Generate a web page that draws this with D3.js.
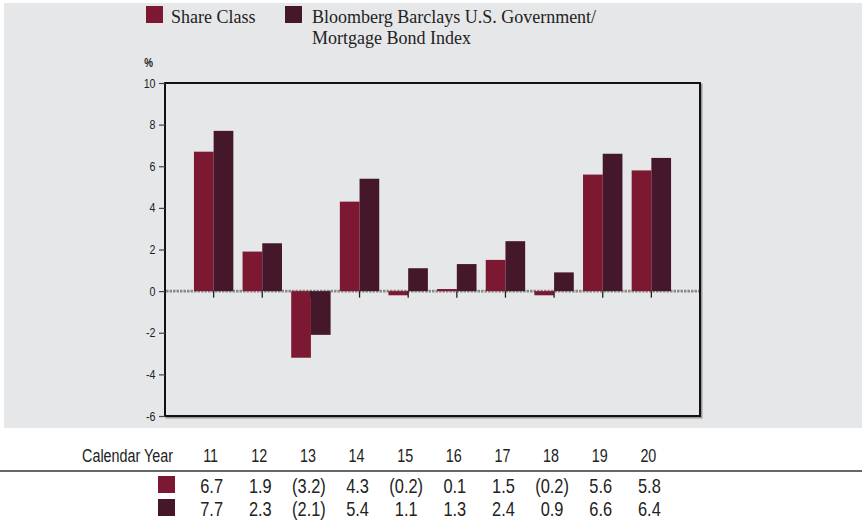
<!DOCTYPE html>
<html>
<head>
<meta charset="utf-8">
<script src="https://cdn.jsdelivr.net/npm/d3@7"></script>
<style>
  html, body { margin: 0; padding: 0; background: #ffffff; }
  svg { display: block; }
</style>
</head>
<body>
<svg id="chart" width="862" height="521"></svg>
<script>
// Calendar-year total returns (%)
const years = ["11", "12", "13", "14", "15", "16", "17", "18", "19", "20"];
const shareClass = [6.7, 1.9, -3.2, 4.3, -0.2, 0.1, 1.5, -0.2, 5.6, 5.8];
const benchmark = [7.7, 2.3, -2.1, 5.4, 1.1, 1.3, 2.4, 0.9, 6.6, 6.4];
const seriesNames = ["Share Class", "Bloomberg Barclays U.S. Government/", "Mortgage Bond Index"];
const yTicks = [10, 8, 6, 4, 2, 0, -2, -4, -6];

const colors = { share: "#7c1831", bench: "#44172a" };
const sans = "'Liberation Sans', Arial, sans-serif";
const serif = "'Liberation Serif', 'Times New Roman', serif";
const squeeze = 0.82; // horizontal compression for a condensed look

const svg = d3.select("#chart");

// Condensed text helper: a sans face squeezed horizontally
function narrowText(parent, px, py, size, anchor, str, opts = {}) {
  return parent.append("text")
    .attr("transform", `translate(${px},${py}) scale(${squeeze},1)`)
    .attr("text-anchor", anchor)
    .attr("font-family", sans)
    .attr("font-size", size)
    .attr("font-weight", opts.weight || "normal")
    .attr("fill", opts.fill || "#222")
    .text(str);
}

// Panel background
svg.append("rect").attr("x", 4).attr("y", 3).attr("width", 858).attr("height", 425)
  .attr("fill", "#e6e7e9");

const plot = { left: 165, right: 700, top: 83, bottom: 416 };

const x = d3.scalePoint().domain(years).range([plot.left, plot.right]).padding(1);
const y = d3.scaleLinear().domain([-6, 10]).range([plot.bottom, plot.top]);
const barW = 19.7;

// Frame shadow + frame
svg.append("rect")
  .attr("x", plot.left + 1.5).attr("y", plot.top + 1.5)
  .attr("width", plot.right - plot.left).attr("height", plot.bottom - plot.top)
  .attr("fill", "none").attr("stroke", "#9a9a9a").attr("stroke-width", 2);
svg.append("rect")
  .attr("x", plot.left).attr("y", plot.top)
  .attr("width", plot.right - plot.left).attr("height", plot.bottom - plot.top)
  .attr("fill", "#e6e7e9").attr("stroke", "#111").attr("stroke-width", 2);

// Zero reference line
svg.append("line")
  .attr("x1", plot.left + 1).attr("x2", plot.right - 1)
  .attr("y1", y(0)).attr("y2", y(0))
  .attr("stroke", "#8a8a8a").attr("stroke-width", 2.6)
  .attr("stroke-dasharray", "2.5,1");

// Bars
const bars = svg.append("g");
bars.selectAll("rect.share").data(years).join("rect")
  .attr("class", "share")
  .attr("x", d => x(d) - barW)
  .attr("width", barW)
  .attr("y", (d, i) => y(Math.max(0, shareClass[i])))
  .attr("height", (d, i) => Math.abs(y(shareClass[i]) - y(0)))
  .attr("fill", colors.share);
bars.selectAll("rect.bench").data(years).join("rect")
  .attr("class", "bench")
  .attr("x", d => x(d))
  .attr("width", barW)
  .attr("y", (d, i) => y(Math.max(0, benchmark[i])))
  .attr("height", (d, i) => Math.abs(y(benchmark[i]) - y(0)))
  .attr("fill", colors.bench);

// Category ticks below the zero line
svg.append("g").selectAll("line").data(years).join("line")
  .attr("x1", d => x(d)).attr("x2", d => x(d))
  .attr("y1", y(0)).attr("y2", y(0) + 6.5)
  .attr("stroke", "#222").attr("stroke-width", 1.3);

// Y axis: tick marks from d3, labels drawn condensed
const yAxis = svg.append("g")
  .attr("transform", `translate(${plot.left},0)`)
  .call(d3.axisLeft(y).tickValues(yTicks).tickSize(6).tickFormat(""));
yAxis.select(".domain").remove();
yAxis.selectAll(".tick line").attr("stroke", "#444").attr("stroke-width", 1.2);
const yLabels = svg.append("g");
yTicks.forEach(t => narrowText(yLabels, 155.5, y(t) + 4.6, 13, "end", String(t)));

narrowText(svg, 148.5, 67, 12, "middle", "%", { weight: "bold" });

// Legend
svg.append("rect").attr("x", 146).attr("y", 6).attr("width", 17).attr("height", 17).attr("fill", colors.share);
svg.append("text").attr("x", 171).attr("y", 22.5)
  .attr("font-family", serif).attr("font-size", 18).attr("fill", "#222").text(seriesNames[0]);
svg.append("rect").attr("x", 285).attr("y", 6).attr("width", 17).attr("height", 17).attr("fill", colors.bench);
svg.append("text").attr("x", 312).attr("y", 22.5)
  .attr("font-family", serif).attr("font-size", 18).attr("fill", "#222").text(seriesNames[1]);
svg.append("text").attr("x", 312).attr("y", 44)
  .attr("font-family", serif).attr("font-size", 18).attr("fill", "#222").text(seriesNames[2]);

// Table beneath the chart
const fmt = v => v < 0 ? `(${d3.format(".1f")(-v)})` : d3.format(".1f")(v);

narrowText(svg, 173, 461.5, 17.5, "end", "Calendar Year");
const head = svg.append("g");
years.forEach(d => narrowText(head, x(d) - 3, 461.5, 17.5, "middle", d));

svg.append("line").attr("x1", 0).attr("x2", 862).attr("y1", 471).attr("y2", 471)
  .attr("stroke", "#333").attr("stroke-width", 1.6);

const rows = [
  { values: shareClass, color: colors.share, top: 476, base: 493 },
  { values: benchmark, color: colors.bench, top: 499, base: 516 }
];
rows.forEach(r => {
  svg.append("rect").attr("x", 158).attr("y", r.top).attr("width", 17).attr("height", 17).attr("fill", r.color);
  const g = svg.append("g");
  years.forEach((d, i) => narrowText(g, x(d) - 2, r.base, 20, "middle", fmt(r.values[i])));
});
</script>
</body>
</html>
